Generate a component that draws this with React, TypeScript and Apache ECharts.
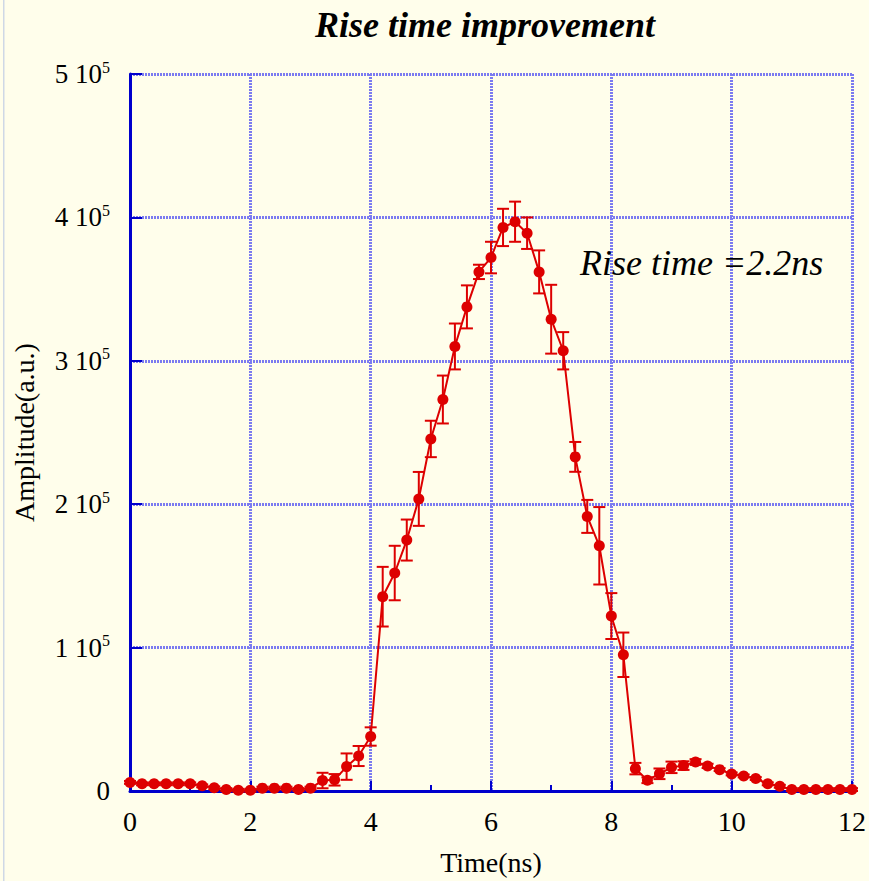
import React, { useEffect, useRef } from "react";
import * as echarts from "echarts";

const times = [
  0, 0.2, 0.4, 0.6, 0.8, 1.0, 1.2, 1.4, 1.6, 1.8, 2.0, 2.2, 2.4, 2.6, 2.8, 3.0,
  3.2, 3.4, 3.6, 3.8, 4.0, 4.2, 4.4, 4.6, 4.8, 5.0, 5.2, 5.4, 5.6, 5.8, 6.0,
  6.2, 6.4, 6.6, 6.8, 7.0, 7.2, 7.4, 7.6, 7.8, 8.0, 8.2, 8.4, 8.6, 8.8, 9.0,
  9.2, 9.4, 9.6, 9.8, 10.0, 10.2, 10.4, 10.6, 10.8, 11.0, 11.2, 11.4, 11.6,
  11.8, 12.0,
];

// amplitude in units of 1e3
const amplitude = [
  6, 5, 5, 5, 5, 5, 3.6, 2.2, 1, 0.5, 0.5, 2, 2, 2, 1, 2,
  7.3, 7.8, 17, 24.4, 38, 135.5, 152, 175, 203.7, 245.5, 273, 310, 337.6, 362, 372,
  393, 397, 389, 362, 329, 307, 233, 191.5, 171, 122, 95, 15.6, 7.5, 12, 16.5,
  17.7, 20.2, 17.5, 14.9, 11.9, 10.5, 8.7, 5, 3.3, 1, 1, 1, 1,
  1, 1,
];

// symmetric error in units of 1e3
const errors = [
  1, 1, 1, 1, 1, 1, 1, 1, 1, 1, 1, 1, 1, 1, 1, 1,
  5.4, 4, 9.2, 7, 6.4, 20.8, 19, 14.3, 18.8, 12.7, 16.7, 16, 15, 5, 11,
  13, 14, 11, 15, 24, 13, 10.4, 11.5, 27, 16, 15.5, 4, 2, 3.7, 4,
  3, 2, 1.5, 1, 1, 1, 1, 1, 1, 1, 1, 1, 1,
  1, 1,
];

const yTicks = [0, 1e5, 2e5, 3e5, 4e5, 5e5];

const title = "Rise time improvement";
const annotation = "Rise time =2.2ns";
const xName = "Time(ns)";
const yName = "Amplitude(a.u.)";

export default function App() {
  const ref = useRef<HTMLDivElement>(null);
  useEffect(() => {
    if (!ref.current) return;
    const chart = echarts.init(ref.current, undefined, { renderer: "svg" });
    const lineData = times.map((t, i) => [t, amplitude[i] * 1000]);
    const errData = times.map((t, i) => [
      t,
      (amplitude[i] - errors[i]) * 1000,
      (amplitude[i] + errors[i]) * 1000,
    ]);
    const serif = "Liberation Serif";
    const red = "#dd0000";
    const axisBlue = "#0000cc";
    const gridBlue = "#7b7bf0";
    chart.setOption({
      animation: false,
      backgroundColor: "#fffeeb",
      textStyle: { fontFamily: serif },
      title: {
        text: title,
        left: 480,
        top: 2,
        textAlign: "center",
        textStyle: {
          fontFamily: serif,
          fontStyle: "italic",
          fontWeight: "bold",
          fontSize: 36,
          color: "#000",
        },
      },
      graphic: [
        {
          type: "rect",
          shape: { x: 3, y: 0, width: 1.5, height: 881 },
          style: { fill: "#cfd8e6" },
          silent: true,
        },
        {
          type: "text",
          left: 580,
          top: 245,
          style: {
            text: annotation,
            font: `italic 36px "${serif}"`,
            fill: "#000",
          },
          z: 100,
        },
      ],
      grid: { left: 130, right: 14, top: 74, bottom: 84.5, containLabel: false },
      xAxis: {
        type: "value",
        min: 0,
        max: 12,
        interval: 2,
        name: xName,
        nameLocation: "middle",
        nameGap: 57,
        nameTextStyle: { fontFamily: serif, fontSize: 28, color: "#000" },
        axisLine: { show: true, onZero: false, lineStyle: { color: axisBlue, width: 3 } },
        axisTick: { show: true, inside: true, length: 10, lineStyle: { color: axisBlue, width: 2 } },
        minorTick: { show: true, splitNumber: 2, length: 6, lineStyle: { color: axisBlue, width: 2 } },
        axisLabel: { fontFamily: serif, fontSize: 28, color: "#000", margin: 16 },
        splitLine: { show: true, lineStyle: { color: gridBlue, width: 3, type: [2, 1] } },
      },
      yAxis: {
        type: "value",
        min: 0,
        max: 5e5,
        interval: 1e5,
        name: yName,
        nameLocation: "middle",
        nameGap: 92,
        nameTextStyle: { fontFamily: serif, fontSize: 28, color: "#000" },
        axisLine: { show: true, onZero: false, lineStyle: { color: axisBlue, width: 3 } },
        axisTick: { show: true, inside: true, length: 12, lineStyle: { color: axisBlue, width: 2 } },
        axisLabel: {
          margin: 20,
          color: "#000",
          formatter: (v: number) => {
            if (v === 0) return "{n|0}";
            const idx = yTicks.indexOf(v);
            return `{n|${idx} 10}{s|5}`;
          },
          rich: {
            n: { fontFamily: serif, fontSize: 27, color: "#000", lineHeight: 30 },
            s: { fontFamily: serif, fontSize: 16, color: "#000", verticalAlign: "top", lineHeight: 30, padding: [0, 0, 12, 0] },
          },
        },
        splitLine: { show: true, lineStyle: { color: gridBlue, width: 3, type: [2, 1] } },
      },
      series: [
        {
          type: "custom",
          name: "err",
          data: errData,
          z: 3,
          renderItem: (params: any, api: any) => {
            const x = api.value(0);
            const lo = api.coord([x, api.value(1)]);
            const hi = api.coord([x, api.value(2)]);
            const cap = 6;
            const style = { stroke: red, lineWidth: 2 };
            return {
              type: "group",
              children: [
                { type: "line", shape: { x1: lo[0], y1: lo[1], x2: hi[0], y2: hi[1] }, style },
                { type: "line", shape: { x1: lo[0] - cap, y1: lo[1], x2: lo[0] + cap, y2: lo[1] }, style },
                { type: "line", shape: { x1: hi[0] - cap, y1: hi[1], x2: hi[0] + cap, y2: hi[1] }, style },
              ],
            };
          },
        },
        {
          type: "line",
          name: "amplitude",
          data: lineData,
          z: 4,
          symbol: "circle",
          symbolSize: 11,
          showAllSymbol: true,
          lineStyle: { color: red, width: 2 },
          itemStyle: { color: red },
        },
      ],
    });
    return () => chart.dispose();
  }, []);
  return <div ref={ref} style={{ width: 869, height: 881, position: "absolute", left: 0, top: 0 }} />;
}
